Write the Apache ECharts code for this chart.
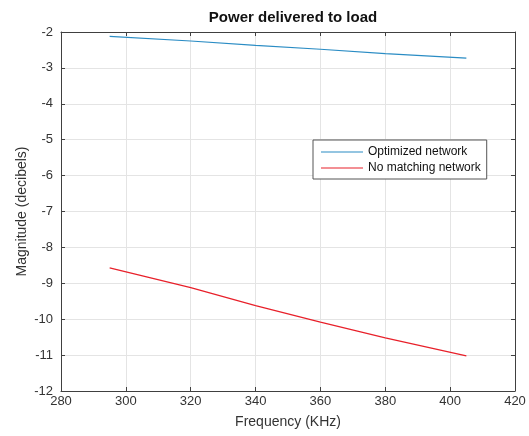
<!DOCTYPE html>
<html>
<head>
<meta charset="utf-8">
<script src="https://cdn.jsdelivr.net/npm/echarts@6/dist/echarts.min.js"></script>
<style>
  html, body { margin: 0; padding: 0; background: #fff; }
  #chart { width: 529px; height: 436px; }
</style>
</head>
<body>
<div id="chart"></div>
<script>
// frequency samples (KHz) and magnitudes (dB)
var freq = [295, 320, 340, 360, 380, 405];
var optimized = [-2.12, -2.25, -2.37, -2.48, -2.60, -2.73];
var noMatching = [-8.57, -9.12, -9.62, -10.08, -10.52, -11.02];
var seriesNames = ["Optimized network", "No matching network"];

var font = "Liberation Sans, Arial, sans-serif";
var axisCol = "#404040";

function pairs(xs, ys) { return xs.map(function (x, i) { return [x, ys[i]]; }); }

var xBase = {
  type: "value", min: 280, max: 420, interval: 20,
  axisLine: { show: true, onZero: false, lineStyle: { color: axisCol, width: 1 } },
  axisTick: { show: true, inside: true, length: 4, lineStyle: { color: axisCol } }
};
var yBase = {
  type: "value", min: -12, max: -2, interval: 1,
  axisLine: { show: true, onZero: false, lineStyle: { color: axisCol, width: 1 } },
  axisTick: { show: true, inside: true, length: 4, lineStyle: { color: axisCol } }
};

var chart = echarts.init(document.getElementById("chart"));
chart.setOption({
  animation: false,
  textStyle: { fontFamily: font },
  title: {
    text: "Power delivered to load", left: 288, top: 5, textAlign: "center",
    textStyle: { fontSize: 15, fontWeight: "bold", color: "#111", fontFamily: font }
  },
  grid: { left: 61, right: 14, top: 32, bottom: 45 },
  legend: {
    data: seriesNames, orient: "vertical", left: 313, top: 140,
    itemWidth: 42, itemHeight: 1, itemGap: 4, icon: "rect",
    backgroundColor: "#fff", borderColor: "#555", borderWidth: 1,
    padding: [6, 6, 5, 8],
    textStyle: { fontSize: 12, color: "#111", fontFamily: font, padding: [0, 0, 0, 0] }
  },
  xAxis: [
    Object.assign({}, xBase, {
      position: "bottom",
      name: "Frequency (KHz)", nameLocation: "middle", nameGap: 24,
      nameTextStyle: { fontSize: 14, color: "#333", fontFamily: font },
      axisLabel: { fontSize: 13, color: "#333", margin: 4, fontFamily: font },
      splitLine: { show: true, lineStyle: { color: "#e4e4e4" } }
    }),
    Object.assign({}, xBase, {
      position: "top", axisLabel: { show: false }, splitLine: { show: false }
    })
  ],
  yAxis: [
    Object.assign({}, yBase, {
      position: "left",
      name: "Magnitude (decibels)", nameLocation: "middle", nameGap: 32,
      nameMoveOverlap: false,
      nameTextStyle: { fontSize: 14, color: "#333", fontFamily: font },
      axisLabel: { fontSize: 13, color: "#333", margin: 8, fontFamily: font },
      splitLine: { show: true, lineStyle: { color: "#e4e4e4" } }
    }),
    Object.assign({}, yBase, {
      position: "right", axisLabel: { show: false }, splitLine: { show: false }
    })
  ],
  series: [
    {
      name: seriesNames[0], type: "line", data: pairs(freq, optimized),
      showSymbol: false, lineStyle: { color: "#2a8cc4", width: 1.2 },
      itemStyle: { color: "#2a8cc4" }
    },
    {
      name: seriesNames[1], type: "line", data: pairs(freq, noMatching),
      showSymbol: false, lineStyle: { color: "#e8202a", width: 1.2 },
      itemStyle: { color: "#e8202a" }
    }
  ]
});
</script>
</body>
</html>
